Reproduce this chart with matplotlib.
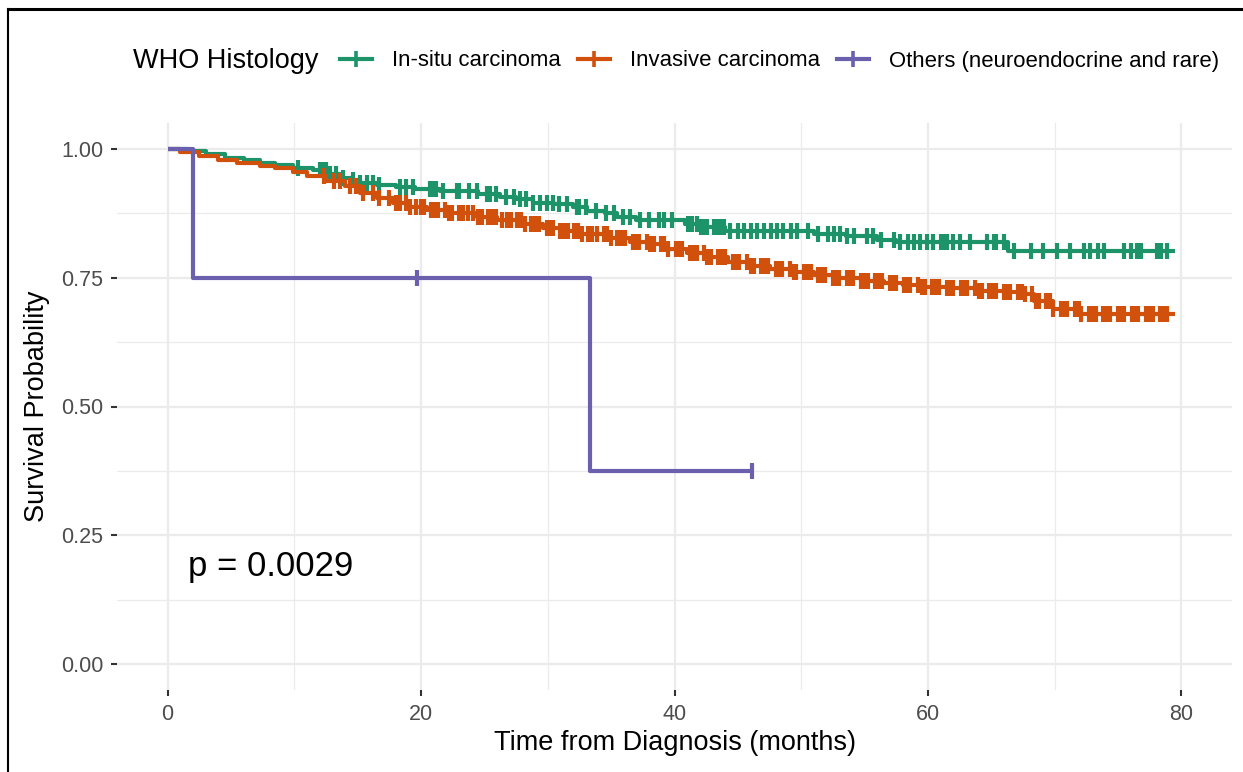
import numpy as np
import matplotlib
matplotlib.use("Agg")
import matplotlib.pyplot as plt
from matplotlib.lines import Line2D

plt.rcParams['font.family'] = ['Liberation Sans', 'DejaVu Sans']

# ---- data (Kaplan-Meier steps) ----
group_names = ["In-situ carcinoma", "Invasive carcinoma", "Others (neuroendocrine and rare)"]
group_colors = ["#1D936A", "#D1500B", "#6B60AE"]

insitu_t = [0, 1.5, 3.0, 4.5, 6.0, 7.3, 8.5, 9.9, 11.5, 12.8, 13.6, 14.5, 15.2, 16.5, 18.0, 19.5,
            21.5, 24.5, 26.2, 27.5, 28.8, 30.5, 32.0, 33.1, 34.5, 35.5, 37.0, 40.8, 42.0, 44.0,
            51.0, 53.5, 56.0, 57.5, 66.3, 79.5]
insitu_s = [1.0, 0.995, 0.99, 0.983, 0.978, 0.973, 0.968, 0.963, 0.958, 0.952, 0.944, 0.94, 0.934,
            0.93, 0.926, 0.922, 0.918, 0.913, 0.907, 0.902, 0.895, 0.892, 0.887, 0.88, 0.875, 0.868,
            0.862, 0.855, 0.848, 0.84, 0.835, 0.83, 0.823, 0.82, 0.802, 0.802]
insitu_cens = [10.3, 12.0, 12.3, 12.5, 12.8, 13.3, 13.8, 14.6, 15.2, 15.7, 16.2, 16.7, 18.3, 18.8,
               19.4, 20.7, 20.9, 21.2, 21.7, 22.8, 23.0, 23.8, 24.4, 25.2, 25.4, 25.9, 26.7, 27.3,
               27.8, 28.3, 28.8, 29.4, 29.9, 30.4, 30.9, 31.5, 32.3, 32.5, 33.0, 33.8, 34.6, 35.2,
               35.9, 36.5, 37.3, 38.0, 38.8, 39.2, 39.8, 41.1, 41.4, 41.8, 42.1, 42.3, 42.6, 43.1,
               43.4, 43.6, 43.9, 44.4, 45.0, 45.5, 46.0, 46.5, 47.1, 47.6, 48.1, 48.6, 49.2, 49.7,
               50.5, 51.3, 52.1, 52.6, 53.1, 53.6, 54.2, 55.2, 55.7, 56.3, 57.3, 57.8, 58.4, 58.9,
               59.4, 59.9, 60.4, 61.0, 61.2, 61.5, 62.0, 62.5, 63.3, 64.7, 65.2, 65.4, 66.0, 66.8,
               68.1, 69.1, 70.2, 71.2, 72.3, 72.8, 73.4, 73.9, 75.5, 76.0, 76.5, 76.8, 78.1, 78.4,
               78.9]

invasive_t = [0, 1.0, 2.5, 4.0, 5.5, 7.3, 8.5, 9.9, 11.0, 12.5, 14.0, 15.2, 16.5, 17.8, 19.0, 20.5,
              22.0, 24.4, 26.0, 28.0, 29.6, 31.0, 32.5, 34.9, 36.5, 38.0, 39.5, 41.0, 42.5, 44.2,
              46.0, 47.5, 49.4, 51.0, 52.5, 54.7, 56.5, 58.0, 59.5, 61.5, 63.9, 66.0, 67.5, 68.4,
              69.9, 72.0, 79.5]
invasive_s = [1.0, 0.993, 0.986, 0.978, 0.972, 0.967, 0.963, 0.955, 0.948, 0.938, 0.928, 0.915,
              0.905, 0.895, 0.887, 0.881, 0.876, 0.867, 0.861, 0.854, 0.847, 0.84, 0.834, 0.826,
              0.82, 0.815, 0.806, 0.798, 0.79, 0.78, 0.773, 0.767, 0.76, 0.755, 0.75, 0.744, 0.74,
              0.735, 0.732, 0.73, 0.725, 0.722, 0.718, 0.705, 0.69, 0.68, 0.68]
invasive_cens = [12.3, 13.1, 13.6, 14.4, 14.9, 15.4, 16.2, 16.7, 17.5, 18.0, 18.3, 18.8, 19.1,
                 19.6, 20.0, 20.2, 20.8, 21.1, 21.3, 21.9, 22.2, 22.4, 23.0, 23.3, 23.7, 24.1,
                 24.5, 24.8, 25.3, 25.6, 25.9, 26.4, 26.8, 27.1, 27.6, 27.9, 28.2, 28.7, 29.0,
                 29.3, 29.9, 30.1, 30.4, 31.0, 31.3, 31.6, 32.1, 32.4, 32.7, 33.2, 33.5, 33.9,
                 34.4, 34.7, 35.0, 35.5, 35.8, 36.1, 36.7, 36.9, 37.2, 37.8, 38.1, 38.4, 38.9,
                 39.2, 39.5, 40.1, 40.3, 40.6, 41.2, 41.5, 41.8, 42.3, 42.6, 42.9, 43.4, 43.7,
                 44.0, 44.6, 44.8, 45.1, 45.7, 46.0, 46.3, 46.8, 47.1, 47.4, 48.0, 48.2, 48.5,
                 49.1, 49.4, 49.6, 50.2, 50.5, 50.8, 51.3, 51.6, 51.9, 52.5, 52.7, 53.0, 53.6,
                 53.9, 54.1, 54.7, 55.0, 55.3, 55.8, 56.1, 56.4, 57.0, 57.2, 57.5, 58.1, 58.4,
                 58.6, 59.2, 59.5, 59.8, 60.3, 60.6, 60.9, 61.5, 61.7, 62.0, 62.6, 62.8, 63.1,
                 63.7, 64.0, 64.3, 64.8, 65.1, 65.4, 66.0, 66.2, 66.5, 67.1, 67.4, 67.7, 68.2,
                 68.5, 68.8, 69.3, 69.6, 69.9, 70.5, 70.7, 71.0, 71.6, 71.9, 72.1, 72.7, 73.0,
                 73.3, 73.8, 74.1, 74.4, 75.0, 75.2, 75.5, 76.1, 76.3, 76.6, 77.2, 77.5, 77.8,
                 78.3, 78.6, 78.9]

others_t = [0, 2.0, 33.3, 46.1]
others_s = [1.0, 0.75, 0.375, 0.375]
others_cens = [19.7, 46.1]

p_label = "p = 0.0029"

curves = [(insitu_t, insitu_s, insitu_cens),
          (invasive_t, invasive_s, invasive_cens),
          (others_t, others_s, others_cens)]

# ---- figure ----
W, H = 1243, 772
fig = plt.figure(figsize=(W / 100, H / 100), dpi=100)
ax = fig.add_axes([117 / W, 1 - 690 / H, (1232 - 117) / W, (690 - 123) / H])

for (t, s, cens), col in zip(curves, group_colors):
    t = np.array(t)
    s = np.array(s)
    ax.step(t, s, where='post', color=col, lw=3.0, solid_capstyle='butt', zorder=3)
    cens = np.array(cens)
    idx = np.searchsorted(t, cens, side='right') - 1
    ax.plot(cens, s[idx], ls='none', marker='|', ms=12, mew=3.0, color=col, zorder=3)

ax.text(1.6, 0.19, p_label, fontsize=25, va='center', ha='left', color='black')

ax.set_xlim(-4, 84)
ax.set_ylim(-0.05, 1.05)
ax.set_xticks([0, 20, 40, 60, 80])
ax.set_xticks([10, 30, 50, 70], minor=True)
ax.set_yticks([0, 0.25, 0.5, 0.75, 1.0])
ax.set_yticklabels(["0.00", "0.25", "0.50", "0.75", "1.00"])
ax.set_yticks([0.125, 0.375, 0.625, 0.875], minor=True)
ax.grid(True, which='major', color='#EBEBEB', lw=1.6, zorder=0)
ax.grid(True, which='minor', color='#EBEBEB', lw=0.9, zorder=0)
ax.set_axisbelow(True)
for sp in ax.spines.values():
    sp.set_visible(False)
ax.tick_params(which='major', length=4, width=1.5, color='#333333', labelcolor='#4D4D4D',
               labelsize=15.5, pad=6)
ax.tick_params(which='minor', length=0)

ax.set_xlabel("Time from Diagnosis (months)", fontsize=19.5, labelpad=4)
ax.set_ylabel("Survival Probability", fontsize=19.5, labelpad=8)

# legend on top, title to the left
fig.text(133 / W, 1 - 61 / H, "WHO Histology", fontsize=19.5, va='center', ha='left')
handles = [Line2D([], [], color=c, lw=3.0, marker='|', ms=12, mew=2.6) for c in group_colors]
fig.legend(handles, group_names, loc='center left', bbox_to_anchor=(340 / W, 1 - 61 / H),
           ncol=3, frameon=False, fontsize=15.9, handlelength=1.45, handletextpad=0.9,
           columnspacing=0.78, borderpad=0, borderaxespad=0)

# outer frame lines (top and left)
fig.add_artist(Line2D([8 / W, 1], [1 - 9 / H, 1 - 9 / H], color='black', lw=2.2))
fig.add_artist(Line2D([8 / W, 8 / W], [0, 1 - 9 / H], color='black', lw=1.5))

fig.savefig("out.png", dpi=100)
